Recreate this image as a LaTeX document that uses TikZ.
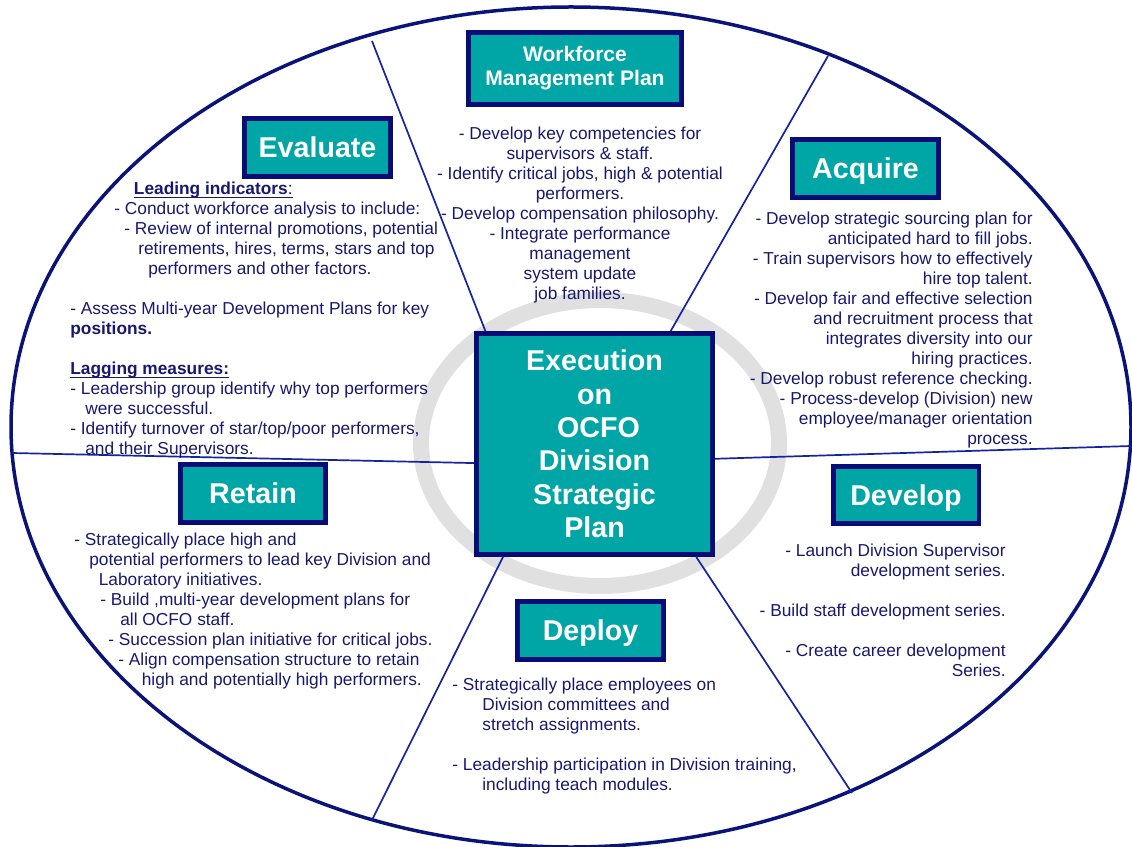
\documentclass[tikz,border=0pt]{standalone}
\usepackage{fontspec}
\setmainfont{Liberation Sans}
\usepackage{xcolor}

\definecolor{planteal}{RGB}{0,166,166}
\definecolor{boxnavy}{RGB}{8,12,118}
\definecolor{notenavy}{RGB}{24,24,112}
\definecolor{rimblue}{RGB}{10,20,120}
\definecolor{spokeblue}{RGB}{20,36,160}
\definecolor{ringgrey}{RGB}{224,224,224}

% one pixel of the layout
\newlength{\pxunit}
\setlength{\pxunit}{0.02cm}
\newcommand{\pad}[1]{\hspace*{#1\pxunit}}
% underline sitting just under the baseline
\newcommand{\lineunder}[1]{\setbox0\hbox{#1}\rlap{\rule[-1.8pt]{\wd0}{0.6pt}}\box0}

\begin{document}
\begin{tikzpicture}[x=0.02cm,y=0.02cm,
  planbox/.style={draw=boxnavy, line width=0.1cm, fill=planteal, text=white, inner sep=0pt},
  headbox/.style={planbox, minimum width=2.92cm, minimum height=1.16cm,
    text height=11.7pt, text depth=0pt, font=\bfseries\fontsize{16.3}{19}\selectfont},
  notes/.style={text=notenavy, inner sep=0pt, font=\fontsize{9.85}{11.4}\selectfont},
  spoke/.style={spokeblue, line width=0.034cm}]

\useasboundingbox (0,0) rectangle (1132,846);

% outer ellipse and grey ring
\draw[rimblue, line width=0.07cm] (571,419) ellipse [x radius=560, y radius=420];
\draw[ringgrey, line width=0.32cm] (600,403) ellipse [x radius=179, y radius=143];

% centre box
\node[planbox, minimum width=4.72cm, minimum height=4.42cm, align=center,
  font=\bfseries\fontsize{16.3}{19}\selectfont] (hub) at (594.5,402)
  {Execution\\on\\~OCFO\\Division\\Strategic\\Plan};

% spokes out to the ellipse
{
\coordinate (rimTL) at (372,805);
\coordinate (rimTR) at (828,790);
\coordinate (rimL) at (12,393);
\coordinate (rimR) at (1131,400);
\coordinate (rimBL) at (372,26);
\coordinate (rimBR) at (852,53);

\draw[spoke] (hub.134) -- (rimTL);
\draw[spoke] (hub.56.6) -- (rimTR);
\draw[spoke] (hub.189) -- (rimL);
\draw[spoke] (hub.353.8) -- (rimR);
\draw[spoke] (hub.231.9) -- (rimBL);
\draw[spoke] (hub.312.2) -- (rimBR);
}

% heading boxes
{
\node[planbox, minimum width=4.26cm, minimum height=1.44cm, align=center,
  font=\bfseries\fontsize{12}{13.7}\selectfont] (workforce) at (575,777.5)
  {Workforce\\Management Plan};
\node[headbox] (evaluate) at (317.5,698.5) {Evaluate};
\node[headbox] (acquire) at (865.5,677.5) {Acquire};
\node[headbox] (retain) at (253,352.5) {Retain~};
\node[headbox] (develop) at (906,351) {Develop~};
\node[headbox] (deploy) at (590.5,215.5) {Deploy~};
}

% notes
{
\node[notes, anchor=north, align=center] (wfnotes) at (580,719.4)
  {- Develop key competencies for\\
   supervisors \& staff.\\
   - Identify critical jobs, high \& potential\\
   performers.\\
   - Develop compensation philosophy.\\
   - Integrate performance\\
   management\\
   system update\\
   job families.};

\node[notes, anchor=north west, align=left] (evalnotes) at (70,664.4)
  {\pad{63.6}\lineunder{\textbf{Leading indicators}:}\\
   \pad{44}- Conduct workforce analysis to include:\\
   \pad{54}- Review of internal promotions, potential\\
   \pad{68}retirements, hires, terms, stars and top\\
   \pad{78}performers and other factors.\\[11.4pt]
   - Assess Multi-year Development Plans for key\\
   \textbf{positions.}\\[11.4pt]
   \lineunder{\textbf{Lagging measures:}}\\
   - Leadership group identify why top performers\\
   \pad{15}were successful.\\
   - Identify turnover of star/top/poor performers,\\
   \pad{15}and their Supervisors.};

\node[notes, anchor=north east, align=right] (acqnotes) at (1033,634.4)
  {- Develop strategic sourcing plan for\\
   anticipated hard to fill jobs.\\
   - Train supervisors how to effectively\\
   hire top talent.\\
   - Develop fair and effective selection\\
   and recruitment process that\\
   integrates diversity into our\\
   hiring practices.\\
   - Develop robust reference checking.\\
   - Process-develop (Division) new\\
   employee/manager orientation\\
   process.};

\node[notes, anchor=north west, align=left] (retnotes) at (74,313.4)
  {- Strategically place high and\\
   \pad{15}potential performers to lead key Division and\\
   \pad{24.5}Laboratory initiatives.\\
   \pad{26}- Build ,multi-year development plans for\\
   \pad{46}all OCFO staff.\\
   \pad{34}- Succession plan initiative for critical jobs.\\
   \pad{44}- Align compensation structure to retain\\
   \pad{67.5}high and potentially high performers.};

\node[notes, anchor=north east, align=right] (devnotes) at (1006,302.4)
  {- Launch Division Supervisor\\
   development series.\\[11.4pt]
   - Build staff development series.\\[11.4pt]
   - Create career development\\
   Series.};

\node[notes, anchor=north west, align=left] (depnotes) at (452,168.4)
  {- Strategically place employees on\\
   \pad{30}Division committees and\\
   \pad{30}stretch assignments.\\[11.4pt]
   - Leadership participation in Division training,\\
   \pad{30}including teach modules.};
}

\end{tikzpicture}
\end{document}
